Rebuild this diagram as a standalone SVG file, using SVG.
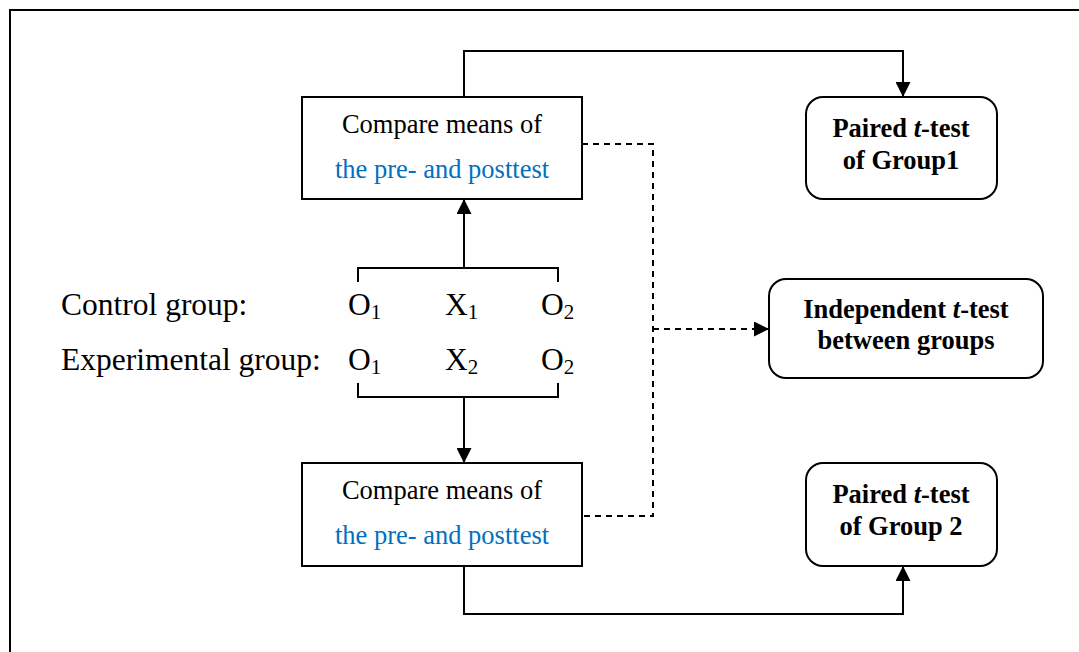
<svg xmlns="http://www.w3.org/2000/svg" width="1079" height="652" viewBox="0 0 1079 652">
<defs>
<marker id="arrB" viewBox="0 0 10 10" refX="10" refY="5" markerWidth="15" markerHeight="15" markerUnits="userSpaceOnUse" orient="auto">
<path d="M0,0 L10,5 L0,10 Z" fill="#000"/>
</marker>
</defs>
<style>
.box{fill:#fff;stroke:#000;stroke-width:2}
.ln{fill:none;stroke:#000;stroke-width:2}
.dash{fill:none;stroke:#000;stroke-width:2;stroke-dasharray:6,5}
.t{font-family:"Liberation Serif","Times New Roman",serif;font-size:26.5px;text-anchor:middle;fill:#000}
.blue{fill:#0070C0}
.b{font-family:"Liberation Serif","Times New Roman",serif;font-size:26.5px;font-weight:bold;text-anchor:middle;fill:#000}
.lg{font-family:"Liberation Serif","Times New Roman",serif;font-size:31.5px;fill:#000}
.sub{font-size:21px}
</style>
<rect x="10" y="10" width="1100" height="700" fill="#fff" stroke="#000" stroke-width="2"/>

<g id="connectors">
<path class="ln" d="M464,97 V51 H903 V97" marker-end="url(#arrB)"/>
<path class="ln" d="M464,566 V614 H903 V566" marker-end="url(#arrB)"/>
<path class="ln" d="M358,282 V268 H558 V282"/>
<path class="ln" d="M464,268 V199" marker-end="url(#arrB)"/>
<path class="ln" d="M358,383 V397 H558 V383"/>
<path class="ln" d="M464,397 V463" marker-end="url(#arrB)"/>
<path class="dash" d="M582,144 H653 V516 H582"/>
<path class="dash" d="M653,329 H769" marker-end="url(#arrB)"/>
</g>

<g id="compare-top">
<rect class="box" x="302" y="97" width="280" height="102"/>
<text class="t" x="442" y="133">Compare means of</text>
<text class="t blue" x="442" y="178">the pre- and posttest</text>
</g>

<g id="compare-bottom">
<rect class="box" x="302" y="463" width="280" height="103"/>
<text class="t" x="442" y="499">Compare means of</text>
<text class="t blue" x="442" y="544">the pre- and posttest</text>
</g>

<g id="paired1">
<rect class="box" x="806" y="97" width="191" height="102" rx="17"/>
<text class="b" x="901" y="137">Paired <tspan font-style="italic">t</tspan>-test</text>
<text class="b" x="901" y="169">of Group1</text>
</g>

<g id="independent">
<rect class="box" x="769" y="279" width="274" height="99" rx="17"/>
<text class="b" x="906" y="318">Independent <tspan font-style="italic">t</tspan>-test</text>
<text class="b" x="906" y="349">between groups</text>
</g>

<g id="paired2">
<rect class="box" x="806" y="463" width="191" height="103" rx="17"/>
<text class="b" x="901" y="503">Paired <tspan font-style="italic">t</tspan>-test</text>
<text class="b" x="901" y="535">of Group 2</text>
</g>

<g id="design">
<text class="lg" x="61" y="315">Control group:</text>
<text class="lg" x="61" y="370">Experimental group:</text>
<text class="lg" x="348" y="315">O<tspan class="sub" dy="4">1</tspan></text>
<text class="lg" x="445" y="315">X<tspan class="sub" dy="4">1</tspan></text>
<text class="lg" x="541" y="315">O<tspan class="sub" dy="4">2</tspan></text>
<text class="lg" x="348" y="370">O<tspan class="sub" dy="4">1</tspan></text>
<text class="lg" x="445" y="370">X<tspan class="sub" dy="4">2</tspan></text>
<text class="lg" x="541" y="370">O<tspan class="sub" dy="4">2</tspan></text>
</g>
</svg>
